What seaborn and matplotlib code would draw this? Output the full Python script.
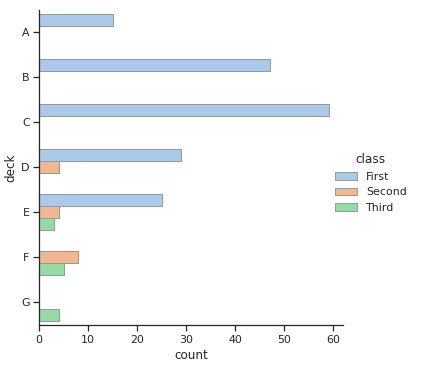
import pandas as pd
import seaborn as sns
import matplotlib.pyplot as plt

decks = ["A", "B", "C", "D", "E", "F", "G"]
classes = ["First", "Second", "Third"]
first_counts = [15, 47, 59, 29, 25, 0, 0]
second_counts = [0, 0, 0, 4, 4, 8, 0]
third_counts = [0, 0, 0, 0, 3, 5, 4]

rows = []
for cls, counts in zip(classes, [first_counts, second_counts, third_counts]):
    for deck, n in zip(decks, counts):
        rows += [{"deck": deck, "class": cls}] * n
df = pd.DataFrame(rows)
df["deck"] = pd.Categorical(df["deck"], categories=decks)
df["class"] = pd.Categorical(df["class"], categories=classes)

sns.set_theme(style="ticks")
g = sns.catplot(y="deck", hue="class", kind="count", palette="pastel",
                edgecolor=".6", data=df, height=5, aspect=1)
g.figure.set_size_inches(425 / 72, 366 / 72)
g.figure.subplots_adjust(left=0.092, right=0.807, top=0.973, bottom=0.112)
g._legend.set_bbox_to_anchor((0.98, 0.5))
g.figure.savefig("out.png", dpi=72)
